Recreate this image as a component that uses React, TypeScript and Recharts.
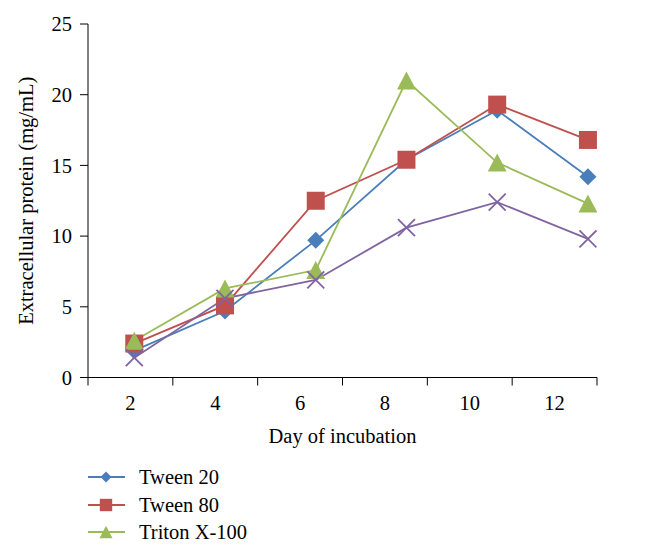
import React from 'react';
import { LineChart, Line, XAxis, YAxis, Legend } from 'recharts';

// values (mg/mL)
const days = [2, 4, 6, 8, 10, 12];
const tween20 = [1.9, 4.7, 9.7, 15.4, 18.9, 14.2];
const tween80 = [2.4, 5.1, 12.5, 15.4, 19.3, 16.8];
const tritonX100 = [2.6, 6.3, 7.6, 21.0, 15.2, 12.3];
const fourthSeries = [1.4, 5.6, 6.9, 10.6, 12.4, 9.8];

const yTicks = [0, 5, 10, 15, 20, 25];
// tick marks sit between the day labels
const xTickMarks = [1, 3, 5, 7, 9, 11, 13];

const data = days.map((day, i) => ({
    day,
    tween20: tween20[i],
    tween80: tween80[i],
    triton: tritonX100[i],
    fourth: fourthSeries[i],
}));

const FONT = '"Liberation Serif", "Times New Roman", serif';
const FS = 20.5;

type Shape = 'diamond' | 'square' | 'triangle' | 'cross';

const SERIES: { key: string; name: string; color: string; shape: Shape; legend: boolean }[] = [
    { key: 'tween20', name: 'Tween 20', color: '#4A7EBB', shape: 'diamond', legend: true },
    { key: 'tween80', name: 'Tween 80', color: '#C0504D', shape: 'square', legend: true },
    { key: 'triton', name: 'Triton X-100', color: '#9BBB59', shape: 'triangle', legend: true },
    { key: 'fourth', name: 'Series 4', color: '#8064A2', shape: 'cross', legend: false },
];

const marker = (shape: Shape, color: string, cx: number, cy: number, s: number, key?: string) => {
    if (shape === 'diamond') {
        return <polygon key={key} points={`${cx},${cy - s} ${cx + s},${cy} ${cx},${cy + s} ${cx - s},${cy}`} fill={color} />;
    }
    if (shape === 'square') {
        return <rect key={key} x={cx - s} y={cy - s} width={2 * s} height={2 * s} fill={color} />;
    }
    if (shape === 'triangle') {
        return <polygon key={key} points={`${cx},${cy - s} ${cx + s * 1.05},${cy + s} ${cx - s * 1.05},${cy + s}`} fill={color} />;
    }
    return (
        <g key={key} stroke={color} strokeWidth={1.8}>
            <line x1={cx - s} y1={cy - s} x2={cx + s} y2={cy + s} />
            <line x1={cx - s} y1={cy + s} x2={cx + s} y2={cy - s} />
        </g>
    );
};

const markerSize: Record<Shape, number> = { diamond: 8.5, square: 9, triangle: 9, cross: 8.5 };

const DayTick = (props: any) => {
    const { x, y, payload } = props;
    const v = payload.value;
    if (v % 2 === 1) {
        return <line x1={x} x2={x} y1={y - 18} y2={y - 10} stroke="#000" />;
    }
    return (
        <text x={x} y={y + 14} textAnchor="middle" fontFamily={FONT} fontSize={FS} fill="#000">
            {v}
        </text>
    );
};

const LegendBox = () => (
    <div style={{ height: 82.5, fontFamily: FONT, fontSize: FS, color: '#000' }}>
        {SERIES.filter((s) => s.legend).map((s) => (
            <div key={s.key} style={{ display: 'flex', alignItems: 'center', height: 27.5, paddingLeft: 80 }}>
                <svg width={37} height={20} style={{ display: 'block' }}>
                    <line x1={0} x2={37} y1={10} y2={10} stroke={s.color} strokeWidth={1.8} />
                    {marker(s.shape, s.color, 18, 10, s.shape === 'diamond' ? 5.5 : 6.2)}
                </svg>
                <span style={{ marginLeft: 14, lineHeight: '20px' }}>{s.name}</span>
            </div>
        ))}
    </div>
);

const App: React.FC = () => {
    return (
        <LineChart width={632} height={546} data={data} margin={{ top: 16, right: 43, bottom: 8, left: 0 }}>
            <XAxis
                xAxisId="pts"
                type="number"
                dataKey="day"
                orientation="top"
                height={0}
                domain={[0.98, 12.2]}
                allowDataOverflow
                hide
            />
            <XAxis
                xAxisId="vis"
                type="number"
                dataKey="day"
                domain={[1, 13]}
                allowDataOverflow
                ticks={[...xTickMarks, ...days].sort((a, b) => a - b)}
                interval={0}
                tickLine={false}
                tickSize={8}
                tickMargin={10}
                tick={<DayTick />}
                height={86}
                axisLine={{ stroke: '#000' }}
                label={{
                    value: 'Day of incubation',
                    position: 'insideBottom',
                    offset: 21,
                    style: { fontFamily: FONT, fontSize: FS, fill: '#000' },
                }}
            />
            <YAxis
                type="number"
                domain={[0, 25]}
                ticks={yTicks}
                interval={0}
                width={80}
                tickSize={8}
                tickMargin={8}
                axisLine={{ stroke: '#000' }}
                tickLine={{ stroke: '#000' }}
                tick={{ fontFamily: FONT, fontSize: FS, fill: '#000' }}
                label={{
                    value: 'Extracellular protein (mg/mL)',
                    angle: -90,
                    position: 'insideLeft',
                    offset: 18,
                    style: { textAnchor: 'middle', fontFamily: FONT, fontSize: FS, fill: '#000' },
                }}
            />
            <Legend verticalAlign="bottom" align="left" layout="horizontal" content={<LegendBox />} />
            {SERIES.map((s) => (
                <Line
                    key={s.key}
                    xAxisId="pts"
                    dataKey={s.key}
                    name={s.name}
                    type="linear"
                    stroke={s.color}
                    strokeWidth={1.8}
                    isAnimationActive={false}
                    dot={(p: any) => marker(s.shape, s.color, p.cx, p.cy, markerSize[s.shape], `${s.key}-${p.index}`)}
                    activeDot={false}
                    legendType="none"
                />
            ))}
        </LineChart>
    );
};

export default App;
